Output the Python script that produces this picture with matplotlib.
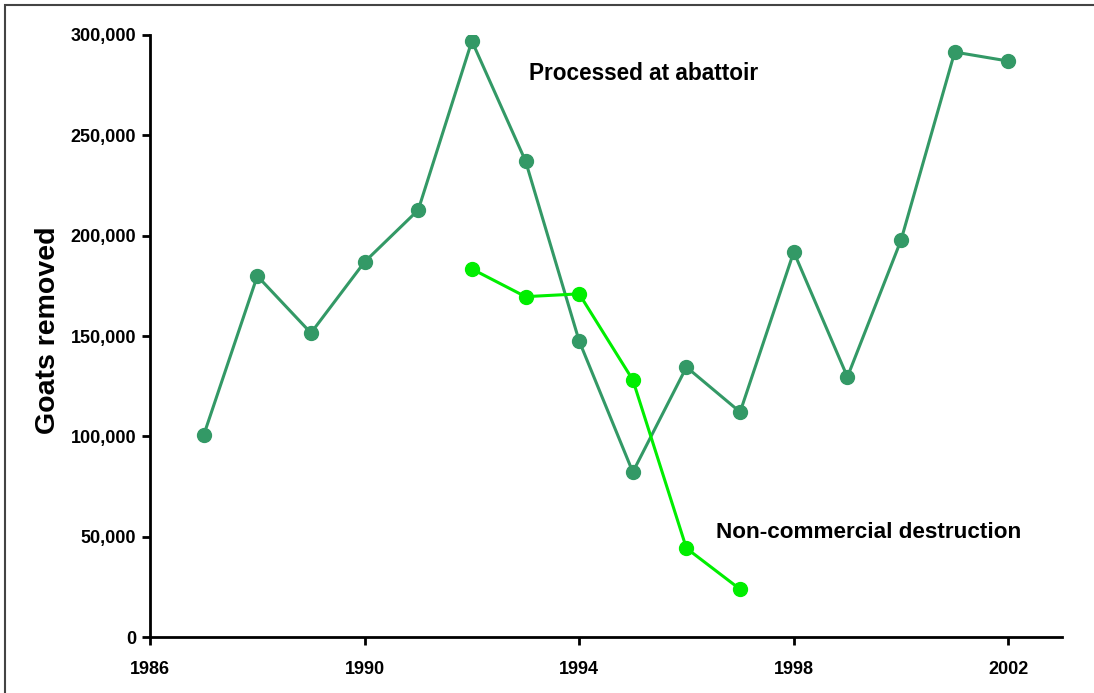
import matplotlib
matplotlib.use("Agg")
import matplotlib.pyplot as plt
from matplotlib.patches import Rectangle
from matplotlib.ticker import FuncFormatter

plt.rcParams['font.family'] = ['Liberation Sans', 'DejaVu Sans']
plt.rcParams['font.weight'] = 'bold'

# data
years_abattoir = [1987, 1988, 1989, 1990, 1991, 1992, 1993, 1994, 1995,
                  1996, 1997, 1998, 1999, 2000, 2001, 2002]
abattoir = [100500, 179900, 151500, 186900, 212800, 297000, 237200, 147500,
            82200, 134500, 112100, 191900, 129600, 197800, 291500, 287000]

years_noncomm = [1992, 1993, 1994, 1995, 1996, 1997]
noncomm = [183400, 169600, 171000, 128100, 44200, 23800]

xticks = [1986, 1990, 1994, 1998, 2002]
yticks = [0, 50000, 100000, 150000, 200000, 250000, 300000]

dark_green = '#339966'
light_green = '#00ee00'

fig = plt.figure(figsize=(10.94, 6.93), dpi=100)
ax = fig.add_axes([150/1094, 1 - 637/693, (1062 - 150)/1094, (637 - 35)/693])

# outer frame (only left/top visible in the original)
fig.patches.append(Rectangle((5/1094, -0.05), 1.2, 1 - 5/693 + 0.05,
                             transform=fig.transFigure, fill=False,
                             edgecolor='#444444', linewidth=1.5))

ax.plot(years_abattoir, abattoir, '-o', color=dark_green, lw=2.2, ms=10)
ax.plot(years_noncomm, noncomm, '-o', color=light_green, lw=2.2, ms=10)

ax.text(1995.2, 281000, 'Processed at abattoir', fontsize=16.3,
        fontweight='bold', ha='center', va='center')
ax.text(1999.4, 52300, 'Non-commercial destruction', fontsize=16.2,
        fontweight='bold', ha='center', va='center')

ax.set_xlim(1986, 2003)
ax.set_ylim(0, 300000)
ax.set_xticks(xticks)
ax.set_yticks(yticks)
ax.yaxis.set_major_formatter(FuncFormatter(lambda v, p: f'{int(v):,}'))

for s in ['top', 'right']:
    ax.spines[s].set_visible(False)
for s in ['left', 'bottom']:
    ax.spines[s].set_linewidth(2)
ax.tick_params(direction='out', width=2, length=6, labelsize=13)
ax.tick_params(axis='x', pad=11)
ax.tick_params(axis='y', pad=4)
for lab in ax.get_xticklabels() + ax.get_yticklabels():
    lab.set_fontweight('bold')

ax.set_ylabel('Goats removed', fontsize=20.5, fontweight='bold')
ax.yaxis.set_label_coords(-0.098, 0.51)

fig.savefig('out.png', dpi=100)
